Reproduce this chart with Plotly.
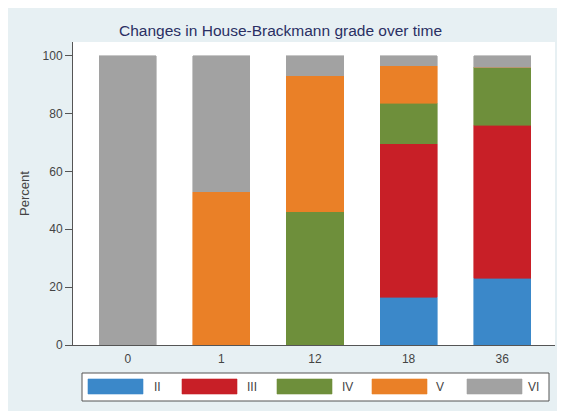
import plotly.graph_objects as go

categories = ["0", "1", "12", "18", "36"]
grades = ["II", "III", "IV", "V", "VI"]
grade_II = [0, 0, 0, 16.5, 23]
grade_III = [0, 0, 0, 53, 53]
grade_IV = [0, 0, 46, 14, 20]
grade_V = [0, 53, 47, 13, 0]
grade_VI = [100, 47, 7, 3.5, 4]

series = [grade_II, grade_III, grade_IV, grade_V, grade_VI]
colors = ["#3b88c9", "#c81f27", "#6e8f3b", "#ea8027", "#a2a2a2"]

W, H = 565, 411
OFF = 8  # page body margin
L, R, T, B = 65, 18, 34, 74
PW, PH = W - L - R, H - T - B


def px(x):  # page x -> paper
    return (x - OFF - L) / PW


def py(y):  # page y -> paper
    return (H - B - (y - OFF)) / PH


fig = go.Figure()
for name, vals, col in zip(grades, series, colors):
    fig.add_trace(go.Bar(x=categories, y=vals, name=name,
                         marker=dict(color=col, line=dict(width=0.6, color=col)),
                         showlegend=False))

shapes = [
    dict(type="rect", xref="paper", yref="paper",
         x0=px(82), x1=px(549), y0=py(401), y1=py(373),
         fillcolor="white", line=dict(color="#555555", width=1)),
]
annotations = [
    dict(text="Changes in House-Brackmann grade over time", xref="paper", yref="paper",
         x=px(280), y=py(31), showarrow=False, xanchor="center", yanchor="middle",
         font=dict(size=15.5, color="#2a2f63", family="Liberation Sans, Arial")),
]
sw_x = [88, 182, 277, 372, 467]
lab_x = [157, 252, 347, 440, 533]
for g, col, sx, lx in zip(grades, colors, sw_x, lab_x):
    shapes.append(dict(type="rect", xref="paper", yref="paper",
                       x0=px(sx), x1=px(sx + 55), y0=py(394), y1=py(379),
                       fillcolor=col, line=dict(width=0.6, color=col)))
    annotations.append(dict(text=g, xref="paper", yref="paper", x=px(lx), y=py(386.5),
                            showarrow=False, xanchor="center", yanchor="middle",
                            font=dict(size=12, color="#444444", family="Liberation Sans, Arial")))

fig.update_layout(
    barmode="stack",
    bargap=0.39,
    width=W, height=H,
    margin=dict(l=L, r=R, t=T, b=B, pad=0),
    paper_bgcolor="#e7f0f3",
    plot_bgcolor="white",
    font=dict(family="Liberation Sans, Arial", size=12, color="#444444"),
    shapes=shapes,
    annotations=annotations,
    showlegend=False,
    xaxis=dict(type="category", range=[-0.586, 4.564], showline=True, linecolor="#555555", linewidth=1,
               ticks="outside", ticklen=3, tickcolor="rgba(0,0,0,0)", showgrid=False,
               tickfont=dict(size=12, color="#444444")),
    yaxis=dict(range=[0, 104.7], tickvals=[0, 20, 40, 60, 80, 100],
               showline=True, linecolor="#555555", linewidth=1,
               ticks="outside", ticklen=7, tickcolor="#555555",
               showgrid=False, zeroline=False,
               title=dict(text="Percent", font=dict(size=13, color="#444444"), standoff=10),
               tickfont=dict(size=12, color="#444444")),
)

fig.write_html("out.html")
